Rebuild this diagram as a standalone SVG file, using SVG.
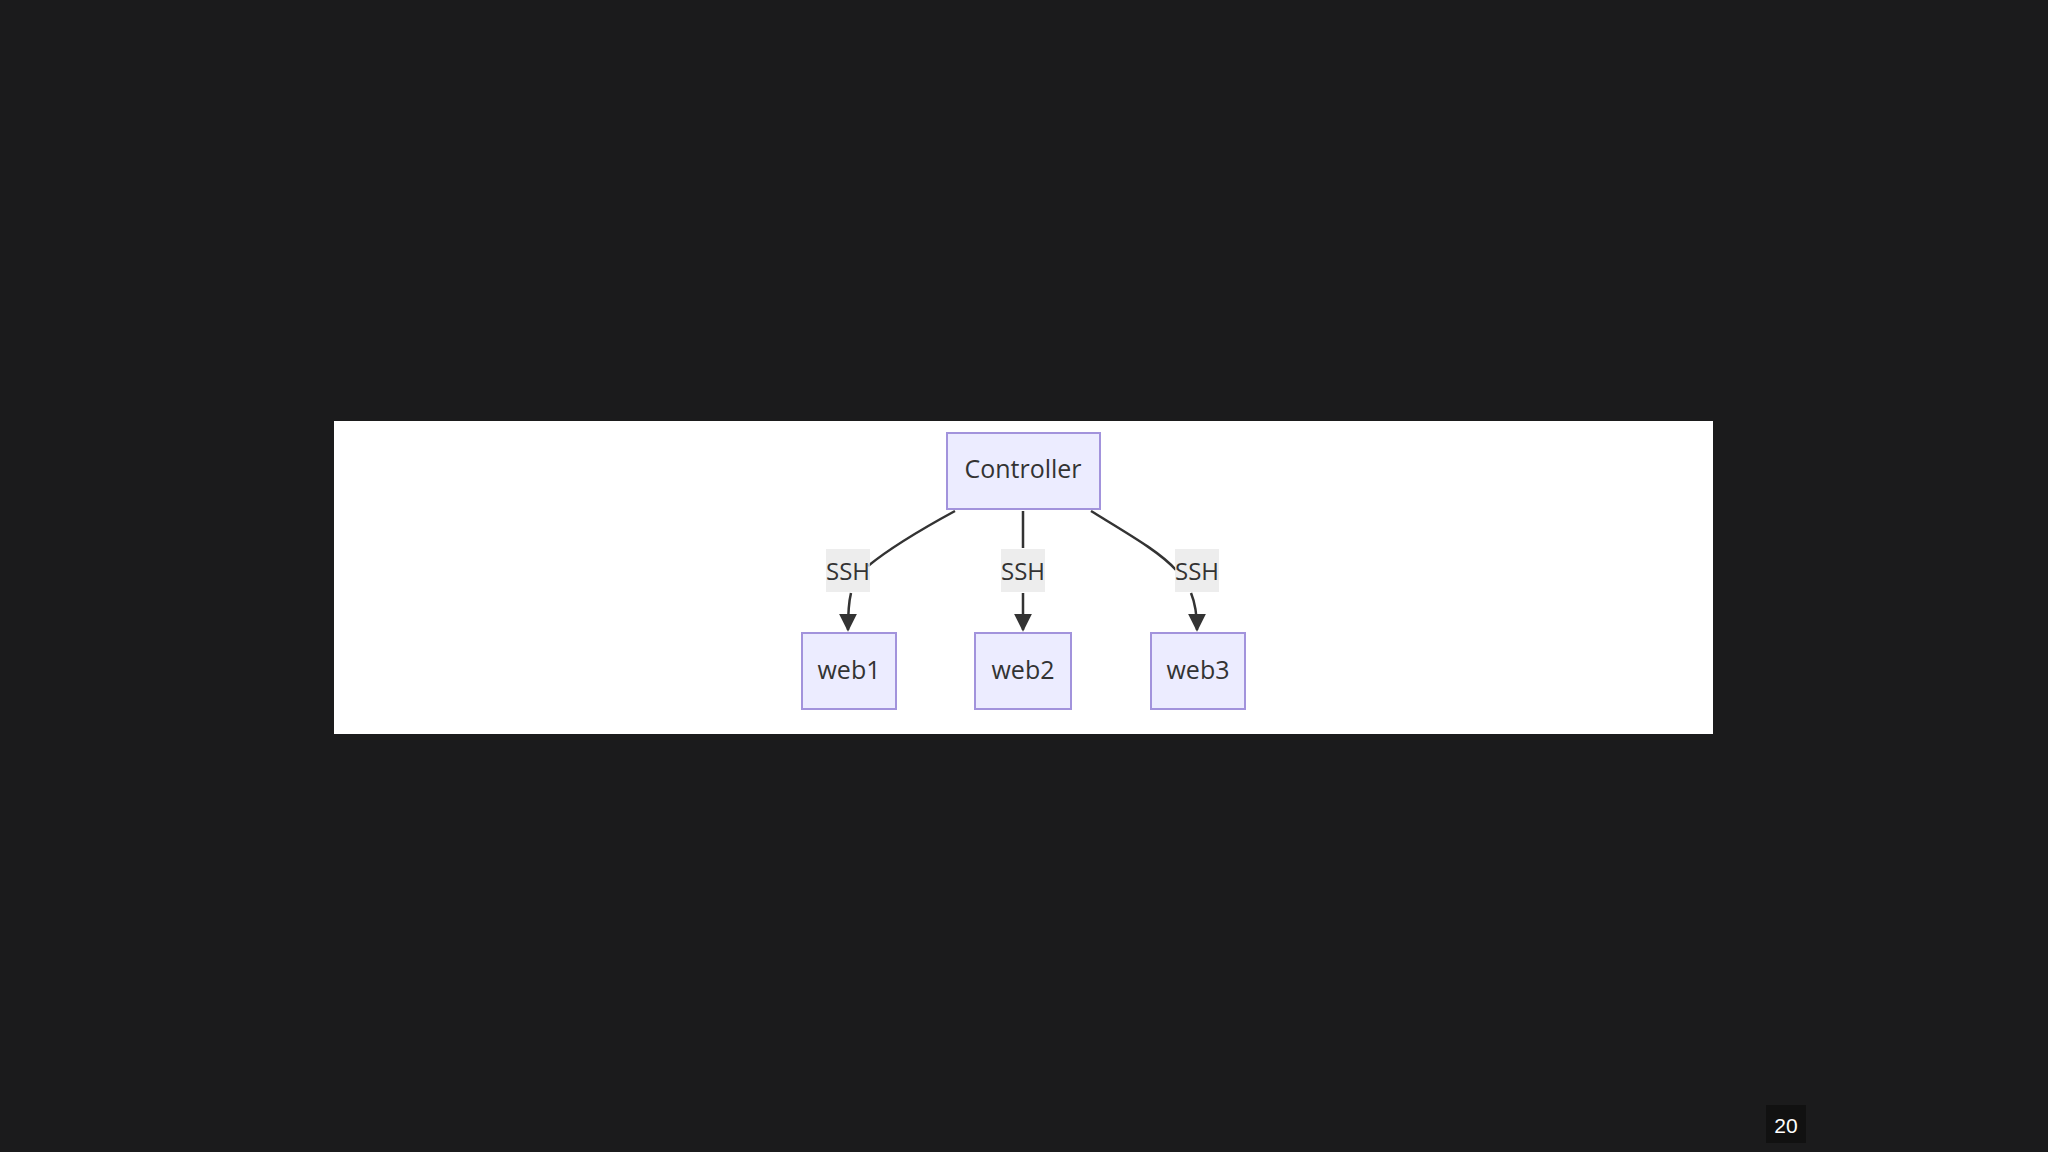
<svg xmlns="http://www.w3.org/2000/svg" width="2048" height="1152" viewBox="0 0 2048 1152">
<style>
.node rect{fill:#ececff;stroke:#a293dc;stroke-width:2}
.node text{font-family:"Open Sans","DejaVu Sans",sans-serif;font-size:25px;fill:#333;text-anchor:middle;dominant-baseline:central}
.edge{fill:none;stroke:#333;stroke-width:2.5}
.lbl rect{fill:#e8e8e8;opacity:0.8}
.lbl text{font-family:"Open Sans","DejaVu Sans",sans-serif;font-size:24px;fill:#333;text-anchor:middle;dominant-baseline:central}
</style>
<defs>
<marker id="a" viewBox="0 0 10 10" refX="9" refY="5" markerWidth="18" markerHeight="18" markerUnits="userSpaceOnUse" orient="auto"><path d="M0,0L10,5L0,10z" fill="#333"/></marker>
</defs>
<rect width="2048" height="1152" fill="#1b1b1c"/>
<rect x="334" y="421" width="1379" height="313" fill="#ffffff"/>
<g id="edges">
<path class="edge" d="M955,511 C920,530 890,548 868,566 M851,593 C848,605 848,615 848,630" marker-end="url(#a)"/>
<path class="edge" d="M1023,511 L1023,548 M1023,593 L1023,630" marker-end="url(#a)"/>
<path class="edge" d="M1091,511 C1130,535 1160,552 1176,570 M1191,593 C1196,605 1197,615 1197,630" marker-end="url(#a)"/>
</g>
<g id="labels">
<g class="lbl"><rect x="826" y="549" width="44" height="43"/><text x="848" y="570">SSH</text></g>
<g class="lbl"><rect x="1001" y="549" width="44" height="43"/><text x="1023" y="570">SSH</text></g>
<g class="lbl"><rect x="1175" y="549" width="44" height="43"/><text x="1197" y="570">SSH</text></g>
</g>
<g id="controller" class="node"><rect x="947" y="433" width="153" height="76"/><text x="1023" y="468">Controller</text></g>
<g id="web1" class="node"><rect x="802" y="633" width="94" height="76"/><text x="849" y="669">web1</text></g>
<g id="web2" class="node"><rect x="975" y="633" width="96" height="76"/><text x="1023" y="669">web2</text></g>
<g id="web3" class="node"><rect x="1151" y="633" width="94" height="76"/><text x="1198" y="669">web3</text></g>
<rect x="1766" y="1105" width="40" height="38" fill="#111"/>
<text x="1786" y="1125" font-family="'Liberation Sans',sans-serif" font-size="21" fill="#fff" text-anchor="middle" dominant-baseline="central">20</text>
</svg>
